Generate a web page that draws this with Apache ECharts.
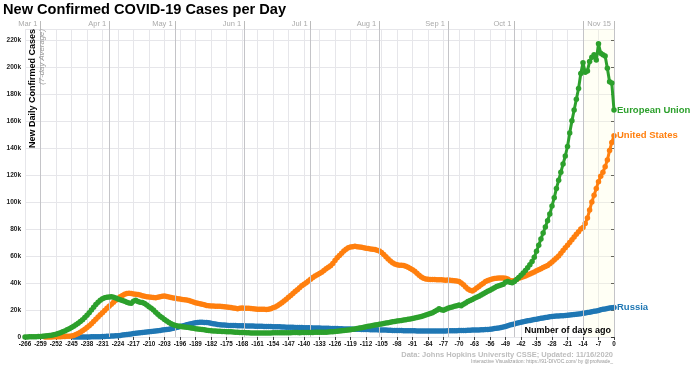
<!DOCTYPE html>
<html><head><meta charset="utf-8">
<script src="https://cdn.jsdelivr.net/npm/echarts@6/dist/echarts.min.js"></script>
<style>html,body{margin:0;padding:0;background:#fff}#c{width:700px;height:366px}</style>
</head><body><div id="c"></div>
<script>
// x axis: number of days ago (day 0 = Nov 15, 2020)
const firstDay = -266, lastDay = 0;
const days = [];
for (let d = firstDay; d <= lastDay; d++) days.push(d);

// month reference lines (days ago) and their labels
const monthDays = [-259, -228, -198, -167, -137, -106, -75, -45, -14, 0];
const monthLabels = ['Mar 1', 'Apr 1', 'May 1', 'Jun 1', 'Jul 1', 'Aug 1', 'Sep 1', 'Oct 1', '', 'Nov 15'];

const seriesNames = ['European Union', 'United States', 'Russia'];
const seriesColors = ['#2ca02c', '#ff7f0e', '#1f77b4'];

// New daily confirmed cases, 7-day average, in thousands (one row = one week, starting at day -266)
const euValues = [
  0.05, 0.05, 0.1, 0.1, 0.15, 0.2, 0.3,
  0.4, 0.5, 0.7, 0.9, 1.1, 1.3, 1.6,
  2.0, 2.5, 3.1, 3.8, 4.5, 5.3, 6.1,
  7.0, 8.0, 9.1, 10.2, 11.4, 12.8, 14.4,
  16.1, 18.0, 20.0, 22.0, 24.0, 25.8, 27.2,
  28.3, 29.0, 29.4, 29.7, 29.8, 29.4, 28.8,
  28.2, 27.6, 27.0, 26.4, 25.8, 25.2, 25.0,
  26.5, 27.2, 26.2, 25.8, 25.6, 24.8, 23.6,
  22.4, 21.3, 20.0, 18.4, 16.8, 15.4, 14.2,
  13.0, 11.8, 10.8, 9.8, 9.0, 8.6, 8.2,
  7.9, 7.6, 7.4, 7.2, 7.0, 6.7, 6.4,
  6.1, 5.9, 5.7, 5.5, 5.3, 5.0, 4.8,
  4.6, 4.5, 4.4, 4.3, 4.2, 4.1, 4.0,
  3.9, 3.8, 3.8, 3.7, 3.6, 3.5, 3.4,
  3.3, 3.3, 3.2, 3.1, 3.0, 3.0, 2.9,
  2.9, 3.0, 3.0, 2.9, 2.9, 3.0, 3.0,
  3.1, 3.1, 3.2, 3.2, 3.1, 3.2, 3.2,
  3.2, 3.2, 3.3, 3.3, 3.3, 3.2, 3.3,
  3.3, 3.3, 3.4, 3.4, 3.4, 3.5, 3.5,
  3.5, 3.5, 3.6, 3.6, 3.7, 3.8, 3.9,
  4.0, 4.2, 4.4, 4.6, 4.8, 5.0, 5.2,
  5.4, 5.7, 6.0, 6.3, 6.6, 6.9, 7.2,
  7.6, 7.9, 8.2, 8.5, 8.8, 9.1, 9.4,
  9.7, 10.0, 10.3, 10.6, 10.9, 11.2, 11.5,
  11.8, 12.0, 12.2, 12.5, 12.8, 13.1, 13.4,
  13.7, 14.0, 14.4, 14.8, 15.2, 15.7, 16.2,
  16.8, 17.4, 18.0, 18.8, 19.8, 21.0, 20.2,
  19.8, 20.5, 21.2, 21.8, 22.3, 22.8, 23.2,
  23.6, 23.2, 24.2, 25.2, 26.2, 27.0, 27.8,
  28.6, 29.4, 30.2, 31.0, 32.0, 33.0, 33.8,
  34.6, 35.5, 36.5, 37.3, 38.0, 38.5, 39.0,
  40.5, 41.0, 40.5, 40.2, 41.0, 42.5, 44.0,
  45.8, 47.4, 49.2, 51.2, 53.4, 55.8, 59.0,
  63.5, 68.0, 72.5, 77.0, 81.5, 86.0, 91.0,
  97, 103, 110, 116, 122, 128, 134,
  141, 151, 160, 168, 176, 184, 195,
  203, 196, 197, 204, 207, 209, 205,
  217, 210, 209, 208, 199, 189, 188,
  168
];
const usValues = [
  null, null, null, null, null, null, null,
  null, null, 0.02, 0.03, 0.05, 0.08, 0.1,
  0.1, 0.15, 0.2, 0.3, 0.4, 0.5, 0.6,
  0.8, 1.2, 1.8, 2.6, 3.5, 4.6, 5.8,
  7.0, 8.4, 9.9, 11.5, 13.2, 14.8, 16.4,
  18.0, 19.6, 21.2, 22.7, 24.2, 25.8, 27.2,
  28.5, 29.8, 30.8, 31.6, 32.2, 32.4, 32.2,
  31.9, 31.6, 31.4, 31.0, 30.6, 30.2, 29.8,
  29.6, 29.4, 29.2, 29.1, 29.4, 29.8, 30.2,
  30.4, 30.0, 29.6, 29.2, 28.8, 28.6, 28.3,
  28.1, 27.8, 27.5, 27.4, 27.0, 26.5, 26.0,
  25.4, 25.0, 24.6, 24.2, 23.8, 23.4, 23.2,
  23.0, 22.9, 22.8, 22.8, 22.7, 22.6, 22.4,
  22.2, 22.0, 21.8, 21.4, 21.2, 21.0, 21.2,
  21.4, 21.3, 21.2, 21.2, 21.1, 21.0, 20.8,
  20.6, 20.5, 20.6, 20.6, 20.4, 20.5, 21.0,
  21.6, 22.3, 23.2, 24.2, 25.4, 26.6, 28.0,
  29.4, 30.8, 32.2, 33.6, 35.0, 36.4, 37.9,
  39.0, 40.2, 41.4, 42.7, 44.0, 45.2, 46.1,
  47.0, 48.0, 49.2, 50.5, 51.6, 52.8, 54.4,
  56.6, 58.6, 60.4, 62.0, 63.6, 65.0, 66.0,
  66.6, 66.9, 67.1, 66.9, 66.7, 66.5, 66.0,
  65.7, 65.5, 65.2, 65.0, 64.8, 64.3, 63.6,
  62.5, 61.0, 59.4, 57.8, 56.3, 55.0, 54.0,
  53.4, 53.2, 53.2, 53.0, 52.4, 51.6, 50.8,
  49.8, 48.6, 47.2, 45.8, 44.4, 43.5, 43.0,
  42.8, 42.6, 42.5, 42.5, 42.4, 42.3, 42.3,
  42.2, 42.1, 42.2, 42.0, 41.8, 41.6, 41.5,
  41.0, 40.0, 38.6, 37.0, 35.6, 34.6, 34.0,
  35.0, 36.2, 37.4, 38.6, 39.8, 41.0, 41.8,
  42.4, 42.9, 43.3, 43.5, 43.6, 43.6, 43.6,
  43.5, 43.0, 41.8, 41.4, 41.8, 42.6, 43.4,
  44.0, 44.6, 45.2, 45.9, 46.6, 47.4, 48.2,
  49.0, 49.8, 50.6, 51.4, 52.2, 53.0, 54.2,
  55.6, 57.0, 58.5, 60.0, 62.0, 64.0, 66.0,
  68.0, 70.0, 72.0, 74.0, 76.0, 78.0, 80.0,
  81, 84, 88, 94, 100, 105, 110,
  115, 119, 122, 126, 131, 138, 144,
  149
];
const ruValues = [
  null, null, null, null, null, null, null,
  null, null, null, null, null, null, null,
  null, null, null, null, null, null, null,
  null, 0.01, 0.02, 0.03, 0.03, 0.04, 0.05,
  0.06, 0.08, 0.1, 0.13, 0.17, 0.2, 0.25,
  0.3, 0.4, 0.5, 0.6, 0.7, 0.8, 0.9,
  1.0, 1.2, 1.4, 1.6, 1.8, 2.0, 2.3,
  2.5, 2.7, 2.9, 3.1, 3.3, 3.5, 3.7,
  3.9, 4.1, 4.3, 4.5, 4.7, 4.9, 5.1,
  5.3, 5.5, 5.8, 6.1, 6.5, 6.9, 7.3,
  7.7, 8.1, 8.6, 9.0, 9.5, 9.9, 10.2,
  10.5, 10.7, 10.9, 10.9, 10.8, 10.7, 10.5,
  10.2, 9.9, 9.6, 9.3, 9.1, 8.9, 8.8,
  8.7, 8.6, 8.6, 8.5, 8.5, 8.4, 8.4,
  8.3, 8.3, 8.2, 8.2, 8.1, 8.1, 8.0,
  8.0, 7.9, 7.9, 7.8, 7.8, 7.7, 7.7,
  7.6, 7.6, 7.5, 7.5, 7.4, 7.4, 7.3,
  7.3, 7.2, 7.2, 7.1, 7.1, 7.0, 7.0,
  6.9, 6.9, 6.8, 6.8, 6.7, 6.7, 6.6,
  6.6, 6.5, 6.5, 6.4, 6.4, 6.3, 6.3,
  6.2, 6.2, 6.1, 6.1, 6.0, 6.0, 5.9,
  5.9, 5.8, 5.8, 5.7, 5.7, 5.6, 5.6,
  5.5, 5.5, 5.4, 5.4, 5.3, 5.3, 5.2,
  5.2, 5.1, 5.1, 5.0, 5.0, 4.9, 4.9,
  4.8, 4.8, 4.8, 4.7, 4.7, 4.7, 4.6,
  4.6, 4.6, 4.5, 4.5, 4.5, 4.5, 4.5,
  4.4, 4.4, 4.4, 4.4, 4.4, 4.5, 4.5,
  4.5, 4.5, 4.6, 4.6, 4.6, 4.7, 4.7,
  4.8, 4.8, 4.9, 4.9, 5.0, 5.0, 5.1,
  5.1, 5.2, 5.2, 5.3, 5.4, 5.5, 5.6,
  5.8, 6.0, 6.2, 6.4, 6.7, 7.0, 7.4,
  7.8, 8.3, 8.8, 9.3, 9.7, 10.1, 10.5,
  10.9, 11.3, 11.7, 12.0, 12.3, 12.6, 12.9,
  13.2, 13.5, 13.8, 14.1, 14.4, 14.7, 15.0,
  15.2, 15.4, 15.5, 15.6, 15.7, 15.8, 15.9,
  16.1, 16.3, 16.5, 16.7, 16.9, 17.1, 17.3,
  17.5, 17.8, 18.1, 18.4, 18.7, 19.0, 19.3,
  19.7, 20.1, 20.5, 20.8, 21.1, 21.4, 21.7,
  21.9
];

const yTicksMax = 228; // axis top (thousands)
const FONT = 'Liberation Sans, Arial, Helvetica, sans-serif';

function toPairs(vals) {
  const out = [];
  days.forEach((d, i) => { if (vals[i] != null) out.push([d, vals[i]]); });
  return out;
}

function lineSeries(name, color, vals, z) {
  return {
    name: name, type: 'line', xAxisIndex: 0, yAxisIndex: 0, z: z,
    data: toPairs(vals),
    showSymbol: true, showAllSymbol: true, symbol: 'circle', symbolSize: 5.5,
    itemStyle: { color: color },
    lineStyle: { color: color, width: 3 },
    endLabel: { show: true, formatter: '{a}', color: color, fontWeight: 'bold', fontSize: 9.5, fontFamily: FONT, distance: 3 },
    emphasis: { disabled: true },
    clip: false
  };
}

const chart = echarts.init(document.getElementById('c'), null, { renderer: 'canvas' });
chart.setOption({
  animation: false,
  backgroundColor: '#fff',
  textStyle: { fontFamily: FONT },
  title: {
    text: 'New Confirmed COVID-19 Cases per Day', left: 3, top: 2, padding: 0,
    textStyle: { fontSize: 14.6, fontWeight: 'bold', color: '#000', fontFamily: FONT }
  },
  grid: { left: 25, right: 86, top: 29, bottom: 29, containLabel: false },
  xAxis: [
    {
      type: 'value', position: 'bottom', min: firstDay, max: lastDay, interval: 7,
      axisLine: { show: false },
      axisTick: { show: true, length: 3, lineStyle: { color: '#444' } },
      axisLabel: { fontSize: 6.3, fontWeight: 'bold', color: '#111', margin: 4, fontFamily: FONT },
      splitLine: { show: true, lineStyle: { color: '#e6e6ea', width: 1 } }
    },
    {
      type: 'value', position: 'top', min: firstDay, max: lastDay,
      axisLine: { show: false },
      axisTick: { show: true, customValues: monthDays, length: 8, lineStyle: { color: '#bbb' } },
      axisLabel: {
        customValues: monthDays, formatter: v => monthLabels[monthDays.indexOf(v)],
        align: 'right', verticalAlign: 'middle', margin: 5, padding: [0, 3, 0, 0],
        color: '#aaa', fontSize: 7.5, fontFamily: FONT
      },
      splitLine: { show: false }
    }
  ],
  yAxis: {
    type: 'value', min: 0, max: yTicksMax, interval: 20,
    axisLine: { show: true, lineStyle: { color: '#333', width: 1 } },
    axisTick: { show: true, length: 3, lineStyle: { color: '#333' } },
    axisLabel: {
      showMaxLabel: false, fontSize: 6.5, fontWeight: 'bold', color: '#222', margin: 4, fontFamily: FONT,
      formatter: v => v === 0 ? '0' : v + 'k'
    },
    splitLine: { show: true, lineStyle: { color: '#e6e6ea', width: 1 } }
  },
  series: [
    {
      name: 'refs', type: 'line', data: [], z: 1, silent: true,
      markLine: {
        silent: true, symbol: 'none', label: { show: false },
        lineStyle: { color: '#c4c4c8', type: 'solid', width: 1 },
        data: monthDays.map(d => ({ xAxis: d }))
      },
      markArea: {
        silent: true, itemStyle: { color: 'rgba(255,255,215,0.25)' },
        data: [[{ xAxis: -14 }, { xAxis: 0 }]]
      }
    },
    lineSeries(seriesNames[2], seriesColors[2], ruValues, 3),
    lineSeries(seriesNames[1], seriesColors[1], usValues, 4),
    lineSeries(seriesNames[0], seriesColors[0], euValues, 5)
  ],
  graphic: [
    { type: 'text', x: 33, y: 29, rotation: Math.PI / 2, z: 10,
      style: { text: 'New Daily Confirmed Cases', fontSize: 9, fontWeight: 'bold', fontFamily: FONT, fill: '#000', align: 'right', verticalAlign: 'middle' } },
    { type: 'text', x: 41.5, y: 29, rotation: Math.PI / 2, z: 10,
      style: { text: '(7-day Average)', fontSize: 7.8, fontStyle: 'italic', fontFamily: FONT, fill: '#999', align: 'right', verticalAlign: 'middle' } },
    { type: 'text', x: 611, y: 331, z: 10,
      style: { text: 'Number of days ago', fontSize: 9, fontWeight: 'bold', fontFamily: FONT, fill: '#000', align: 'right', verticalAlign: 'middle' } },
    { type: 'text', x: 613, y: 355, z: 10,
      style: { text: 'Data: Johns Hopkins University CSSE; Updated: 11/16/2020', fontSize: 7.5, fontWeight: 'bold', fontFamily: FONT, fill: '#bdbdbd', align: 'right', verticalAlign: 'middle' } },
    { type: 'text', x: 613, y: 362, z: 10,
      style: { text: 'Interactive Visualization: https://91-DIVOC.com/ by @profwade_', fontSize: 5, fontFamily: FONT, fill: '#999', align: 'right', verticalAlign: 'middle' } }
  ]
});
</script>
</body></html>
